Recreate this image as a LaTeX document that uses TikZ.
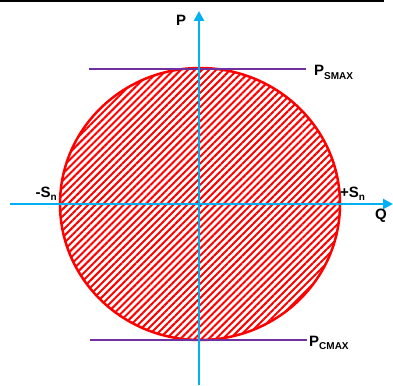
\documentclass[tikz,border=0pt]{standalone}
\usepackage{fontspec}
\setmainfont{Liberation Sans}
\usetikzlibrary{arrows.meta,patterns.meta}
\definecolor{axisblue}{RGB}{0,176,240}
\definecolor{limpurple}{RGB}{112,48,160}
\newcommand{\lowtext}[1]{\raisebox{-0.45ex}{\fontsize{10}{10}\selectfont #1}}

\begin{document}
\begin{tikzpicture}[x=1pt,y=-1pt,>={Triangle[length=10pt,width=10pt]},
  lbl/.style={font=\bfseries\fontsize{15}{15}\selectfont,inner sep=0pt},
  axis/.style={axisblue,line width=2.5pt},
  limit/.style={limpurple,line width=1.5pt}]
\useasboundingbox (0,0) rectangle (393,385);
\draw[line width=2pt](0,1)--(384,1);
% region
\draw[red,line width=2.5pt,pattern={Lines[angle=45,distance=5pt,line width=2pt]},pattern color=red]
  (200,204) ellipse [x radius=140,y radius=136];
% limits
\coordinate (smaxl) at (89,69);
\coordinate (smaxr) at (306,69);
\coordinate (cmaxl) at (90,340);
\coordinate (cmaxr) at (307,340);
\draw[limit](smaxl)--(smaxr);
\draw[limit](cmaxl)--(cmaxr);
% axes
\coordinate (qs) at (10,204);
\coordinate (qe) at (393,204);
\coordinate (ps) at (199,385);
\coordinate (pe) at (199,11);
\draw[axis,->](qs)--(qe);
\draw[axis,->](ps)--(pe);
\node[lbl] (plbl) at (181,20) {P};
\node[lbl] (qlbl) at (381,216) {Q};
\node[lbl,anchor=base west] (smax) at (314,76) {P\lowtext{SMAX}};
\node[lbl,anchor=base west] (cmax) at (309,346) {P\lowtext{CMAX}};
\node[lbl,anchor=base east] (snminus) at (57,197) {-S\lowtext{n}};
\node[lbl,anchor=base west] (snplus) at (340,197) {+S\lowtext{n}};
\end{tikzpicture}
\end{document}
